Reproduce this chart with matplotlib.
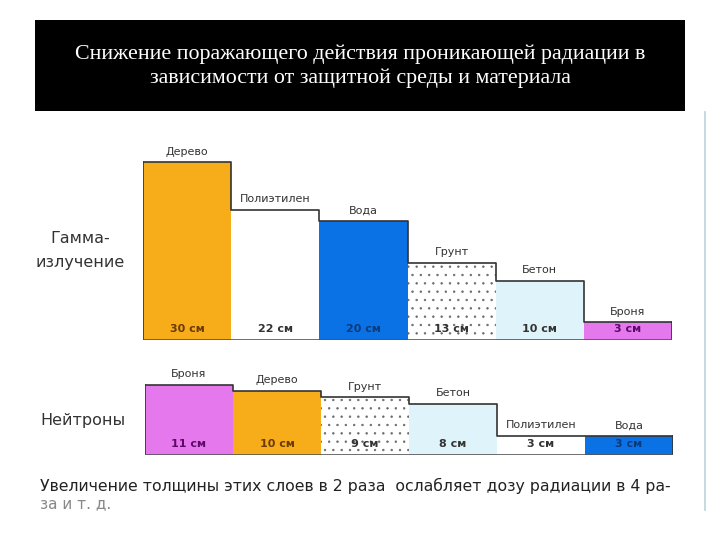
import matplotlib.pyplot as plt
import matplotlib.patches as patches
import numpy as np

title = "Снижение поражающего действия проникающей радиации в\nзависимости от защитной среды и материала"

gamma_materials = ["Дерево", "Полиэтилен", "Вода", "Грунт", "Бетон", "Броня"]
gamma_cm = [30, 22, 20, 13, 10, 3]

neutron_materials = ["Броня", "Дерево", "Грунт", "Бетон", "Полиэтилен", "Вода"]
neutron_cm = [11, 10, 9, 8, 3, 3]

footnote_1 = "Увеличение толщины этих слоев в 2 раза  ослабляет дозу радиации в 4 ра-"
footnote_2 = "за и т. д."

# fill colour, hatch, value text colour
styles = {
    "Дерево": ("#f7ad1a", None, "#6b3a05"),
    "Полиэтилен": ("#ffffff", None, "#333333"),
    "Вода": ("#0b72e6", None, "#0b3a7a"),
    "Грунт": ("#ffffff", "..", "#333333"),
    "Бетон": ("#def4fa", None, "#333333"),
    "Броня": ("#e678ee", None, "#5c0a6a"),
}

plt.rcParams["hatch.linewidth"] = 0.5

fig = plt.figure(figsize=(7.2, 5.4), dpi=100)
fig.patch.set_facecolor("white")

# title banner
fig.patches.append(patches.Rectangle((35 / 720, 1 - 111 / 540), 650 / 720, 91 / 540,
                                     transform=fig.transFigure, facecolor="black",
                                     edgecolor="none", zorder=0))
fig.text(0.5, 1 - 66 / 540, title, ha="center", va="center", color="white",
         family="Liberation Serif", fontsize=15.8, linespacing=1.3)

# thin line at the right
fig.add_artist(plt.Line2D([705 / 720, 705 / 720], [1 - 112 / 540, 1 - 510 / 540],
                          transform=fig.transFigure, color="#bcd3da", lw=1.2))


def draw_row(ax, materials, values, ymax):
    x = np.arange(len(values))
    for xi, m, v in zip(x, materials, values):
        fc, hatch, tc = styles[m]
        ax.bar(xi, v, width=1, align="edge", color=fc, hatch=hatch,
               edgecolor="#6a6a6a" if hatch else fc, linewidth=0)
        ax.annotate(m, (xi + 0.5, v), xytext=(0, 4), textcoords="offset points",
                    ha="center", va="bottom", fontsize=8, color="#333333")
        ax.annotate(f"{v} см", (xi + 0.5, 0), xytext=(0, 8), textcoords="offset points",
                    ha="center", va="center", fontsize=8, color=tc, fontweight="bold")
    # stepped outline
    edges = np.arange(len(values) + 1)
    tops = list(values) + [values[-1]]
    ax.step(edges, tops, where="post", color="#333333", lw=1.2)
    ax.plot([0, 0], [0, values[0]], color="#333333", lw=1.2)
    ax.plot([len(values), len(values)], [0, values[-1]], color="#333333", lw=1.2)
    ax.plot([0, len(values)], [0, 0], color="#555555", lw=1.2)
    ax.set_xlim(0, len(values))
    ax.set_ylim(0, ymax)
    ax.axis("off")


ax_g = fig.add_axes([143 / 720, 1 - 340 / 540, 529 / 720, 200 / 540])
draw_row(ax_g, gamma_materials, gamma_cm, 200 / 5.93)

ax_n = fig.add_axes([145 / 720, 1 - 455 / 540, 528 / 720, 100 / 540])
draw_row(ax_n, neutron_materials, neutron_cm, 100 / 6.4)

fig.text(80 / 720, 1 - 250 / 540, "Гамма-\nизлучение", ha="center", va="center",
         fontsize=11.5, color="#333333", linespacing=1.75)
fig.text(40 / 720, 1 - 420 / 540, "Нейтроны", ha="left", va="center",
         fontsize=11.5, color="#333333")

fig.text(40 / 720, 1 - 486 / 540, footnote_1, ha="left", va="center",
         fontsize=11.3, color="#222222")
fig.text(40 / 720, 1 - 504 / 540, footnote_2, ha="left", va="center",
         fontsize=11, color="#888888")

fig.savefig("out.png", dpi=100)
